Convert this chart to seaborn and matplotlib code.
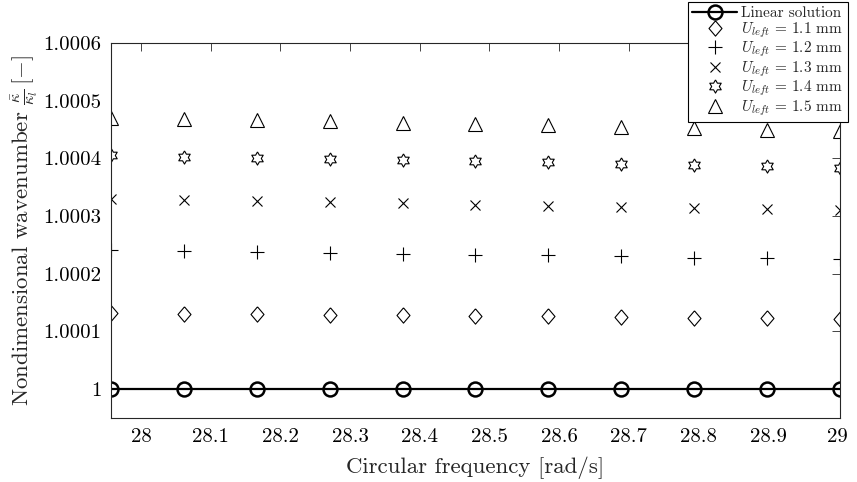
import numpy as np
import pandas as pd
import matplotlib
matplotlib.use("Agg")
import matplotlib.pyplot as plt
import seaborn as sns

# Circular frequency samples [rad/s]
omega = [27.957, 28.0616, 28.1662, 28.2708, 28.3754, 28.48,
         28.5846, 28.6892, 28.7938, 28.8984, 29.003]

# Nondimensional wavenumber kappa_bar / kappa_l
linear = [1.0] * 11
u_11 = [1.000132, 1.000131, 1.000130, 1.000129, 1.000128, 1.000127,
        1.000126, 1.000125, 1.000124, 1.000123, 1.000122]
u_12 = [1.000241, 1.000239, 1.000238, 1.000236, 1.000235, 1.000233,
        1.000232, 1.000230, 1.000228, 1.000227, 1.000225]
u_13 = [1.000330, 1.000328, 1.000326, 1.000324, 1.000322, 1.000320,
        1.000318, 1.000316, 1.000314, 1.000312, 1.000310]
u_14 = [1.000405, 1.000403, 1.000401, 1.000399, 1.000397, 1.000395,
        1.000393, 1.000391, 1.000388, 1.000386, 1.000383]
u_15 = [1.000470, 1.000468, 1.000466, 1.000464, 1.000462, 1.000459,
        1.000457, 1.000455, 1.000452, 1.000450, 1.000447]

x_ticks = [28.0, 28.1, 28.2, 28.3, 28.4, 28.5, 28.6, 28.7, 28.8, 28.9, 29.0]
x_tick_labels = ["28", "28.1", "28.2", "28.3", "28.4", "28.5",
                 "28.6", "28.7", "28.8", "28.9", "29"]
y_ticks = [1.0, 1.0001, 1.0002, 1.0003, 1.0004, 1.0005, 1.0006]
y_tick_labels = ["1", "1.0001", "1.0002", "1.0003", "1.0004", "1.0005", "1.0006"]

labels = ["Linear solution",
          r"$U_{left}\,=\,1.1$ mm", r"$U_{left}\,=\,1.2$ mm",
          r"$U_{left}\,=\,1.3$ mm", r"$U_{left}\,=\,1.4$ mm",
          r"$U_{left}\,=\,1.5$ mm"]

sns.set_theme(style="white")
plt.rcParams.update({
    "font.family": "serif",
    "font.serif": ["cmr10"],
    "mathtext.fontset": "cm",
    "axes.formatter.use_mathtext": True,
    "axes.unicode_minus": False,
    "axes.edgecolor": "#262626",
    "axes.linewidth": 0.8,
})

# custom marker shapes: tall diamond and six-pointed star
diamond = [(0, 1), (0.85, 0), (0, -1), (-0.85, 0), (0, 1)]
ang = np.deg2rad(90 + 30 * np.arange(13))
rad = np.where(np.arange(13) % 2 == 0, 1.0, 1 / np.sqrt(3))
hexagram = list(zip(rad * np.cos(ang), rad * np.sin(ang)))

fig = plt.figure(figsize=(8.57, 4.82), dpi=100)
ax = fig.add_axes([0.1295, 0.1328, 0.8505, 0.778])

sns.lineplot(x=omega, y=linear, ax=ax, color="black", linewidth=1.6,
             marker="o", markersize=10, markerfacecolor="none",
             markeredgecolor="black", markeredgewidth=1.8, label=labels[0])

series = [(u_11, diamond, 11), (u_12, "+", 9.5), (u_13, "x", 7),
          (u_14, hexagram, 9.5), (u_15, "^", 10.5)]
for (vals, mk, ms), lab in zip(series, labels[1:]):
    sns.lineplot(x=omega, y=vals, ax=ax, color="black", linestyle="none",
                 marker=mk, markersize=ms, markerfacecolor="none",
                 markeredgecolor="black", markeredgewidth=0.8, label=lab)

ax.set_xlim(omega[0], omega[-1])
ax.set_ylim(0.99995, 1.0006)
ax.set_xticks(x_ticks)
ax.set_xticklabels(x_tick_labels)
ax.set_yticks(y_ticks)
ax.set_yticklabels(y_tick_labels)
ax.tick_params(direction="in", length=5.5, width=0.6, labelsize=15,
               pad=7, top=True, right=True, colors="#262626",
               labelcolor="black")

ax.set_xlabel("Circular frequency [rad/s]", fontsize=16.5, labelpad=8)
ax.set_ylabel(r"Nondimensional wavenumber $\frac{\bar{\kappa}}{\kappa_l}\,[-]$",
              fontsize=16.5, labelpad=2)

for sp in ax.spines.values():
    sp.set_visible(True)

leg = ax.legend(loc="upper right", bbox_to_anchor=(0.9895, 0.996),
                bbox_transform=fig.transFigure, borderaxespad=0,
                fontsize=11, frameon=True, fancybox=False, framealpha=1,
                edgecolor="black", handlelength=2.9, handletextpad=0.3,
                borderpad=0.3, labelspacing=0.0)
leg.get_frame().set_linewidth(0.8)

fig.savefig("out.png", dpi=100)
